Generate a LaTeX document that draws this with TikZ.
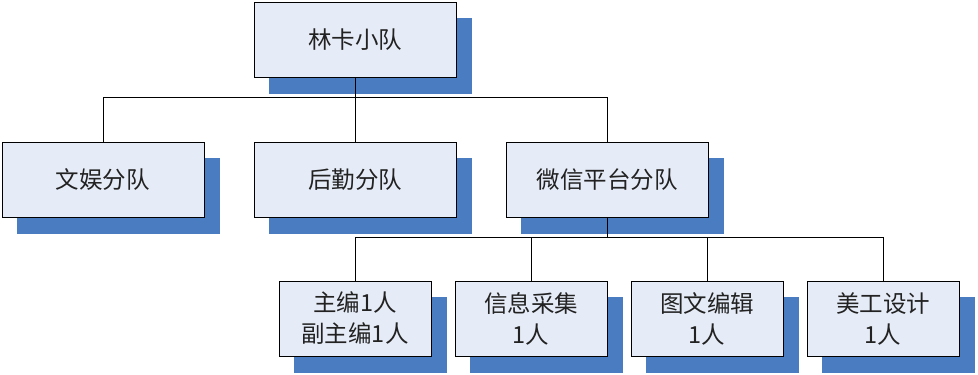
\documentclass[tikz,border=0pt]{standalone}
\usepackage{fontspec}
\usetikzlibrary{calc}
\newfontfamily\cjk{Noto Sans CJK SC}
\definecolor{boxfill}{HTML}{E6ECF7}
\definecolor{shadowc}{HTML}{4A7CC2}
\definecolor{txt}{HTML}{222222}
\pgfdeclarelayer{shadowlayer}
\pgfdeclarelayer{linelayer}
\pgfsetlayers{shadowlayer,linelayer,main}
\begin{document}
\begin{tikzpicture}[x=1pt,y=-1pt,
  unit/.style={draw=black,line width=1pt,fill=boxfill,inner sep=0pt,
    font=\cjk\fontsize{23.5}{31}\selectfont,text=txt,align=center},
  big/.style={unit,minimum width=202pt,minimum height=75pt},
  small/.style={unit,minimum width=152pt,minimum height=75pt},
  link/.style={draw=black,line width=0.9pt}]
\useasboundingbox (0,0) rectangle (978,375);
\path
  node[big] (top) at (355,40) {林卡小队}
  node[big] (wy) at (103,179.5) {文娱分队}
  node[big] (hq) at (355,179.5) {后勤分队}
  node[big] (wx) at (607,179.5) {微信平台分队}
  node[small] (zb) at (355,318.5) {主编1人\\副主编1人}
  node[small] (xx) at (531,318.5) {信息采集\\1人}
  node[small] (tw) at (707,318.5) {图文编辑\\1人}
  node[small] (mg) at (883,318.5) {美工设计\\1人};
\begin{pgfonlayer}{shadowlayer}
\foreach \n in {top,wy,hq,wx,zb,xx,tw,mg}{
  \fill[shadowc] ($(\n.north west)+(15,16)$) rectangle ($(\n.south east)+(15,16)$);
}
\end{pgfonlayer}
\begin{pgfonlayer}{linelayer}
\coordinate (j1) at (355,97);
\coordinate (j2) at (607,237);
\draw[link] (top.south) -- (j1);
\draw[link] (j1) -| (wy.north);
\draw[link] (j1) -- (hq.north);
\draw[link] (j1) -| (wx.north);
\draw[link] (wx.south) -- (j2);
\draw[link] (j2) -| (zb.north);
\draw[link] (j2) -| (xx.north);
\draw[link] (j2) -| (tw.north);
\draw[link] (j2) -| (mg.north);
\end{pgfonlayer}
\end{tikzpicture}
\end{document}
